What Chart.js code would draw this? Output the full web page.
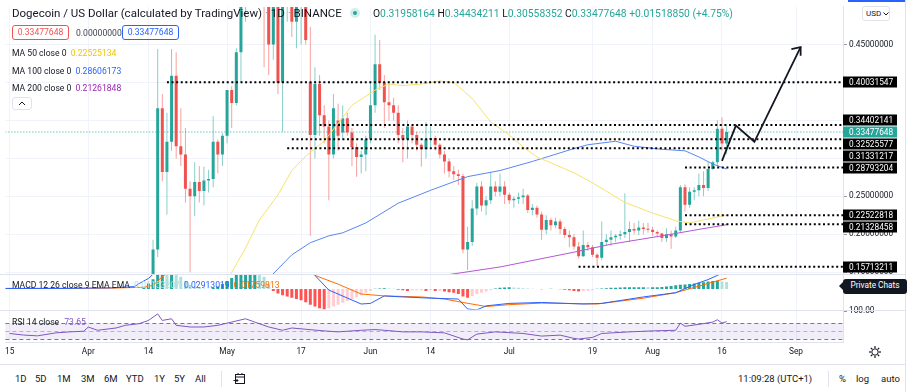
<!DOCTYPE html>
<html>
<head>
<meta charset="utf-8">
<script src="https://cdn.jsdelivr.net/npm/chart.js@4.4.0/dist/chart.umd.min.js"></script>
<style>
  html, body { margin: 0; padding: 0; background: #fff; }
  body { width: 911px; height: 392px; position: relative; overflow: hidden; font-family: Roboto, "Noto Sans", sans-serif; color: #131722; }
  #wrap { position: absolute; left: 0; top: 0; width: 911px; height: 364px; }
  .t { position: absolute; white-space: nowrap; line-height: 1; }
  .lg { font-size: 8.6px; }
  .box { position: absolute; border-radius: 3px; box-sizing: border-box; text-align: center; font-size: 8.6px; line-height: 13px; }
  .teal { color: #26a69a; }
  #bar { position: absolute; left: 0; top: 364px; width: 905px; height: 28px; border-top: 1px solid #e0e3eb; box-sizing: border-box; font-size: 9.5px; }
  #bar span { position: absolute; top: 8px; white-space: nowrap; }
  .sep { position: absolute; top: 6px; width: 1px; height: 16px; background: #e0e3eb; }
</style>
</head>
<body>
<div id="wrap"><canvas id="c" width="911" height="364"></canvas></div>

<div class="t" style="left:12px;top:8px;font-size:11.5px;">Dogecoin / US Dollar (calculated by TradingView) <span style="color:#9598a1">·</span> 1D <span style="color:#9598a1">·</span> BINANCE</div>
<div style="position:absolute;left:350px;top:8px;width:10px;height:10px;border-radius:50%;background:rgba(38,166,154,0.2);"><div style="position:absolute;left:3px;top:3px;width:4px;height:4px;border-radius:50%;background:#26a69a;"></div></div>
<div class="t" style="left:373px;top:9px;font-size:10.3px;">O<span class="teal">0.31958164</span> H<span class="teal">0.34434211</span> L<span class="teal">0.30558352</span> C<span class="teal">0.33477648</span> <span class="teal">+0.01518850 (+4.75%)</span></div>

<div class="box" style="left:12px;top:25px;width:57px;height:15px;border:1px solid #ef5350;color:#ef5350;">0.33477648</div>
<div class="t lg" style="left:76px;top:29px;color:#434651;">0.00000000</div>
<div class="box" style="left:122px;top:25px;width:57px;height:15px;border:1px solid #2962ff;color:#2962ff;">0.33477648</div>

<div class="t lg" style="left:12px;top:49px;">MA 50 close 0 <span style="color:#f2c500;margin-left:2px;">0.22525134</span></div>
<div class="t lg" style="left:12px;top:67px;">MA 100 close 0 <span style="color:#2962ff;margin-left:2px;">0.28606173</span></div>
<div class="t lg" style="left:12px;top:84px;">MA 200 close 0 <span style="color:#9c27b0;margin-left:2px;">0.21261848</span></div>
<div style="position:absolute;left:12px;top:97px;width:20px;height:13px;border:1px solid #e0e3eb;border-radius:3px;box-sizing:border-box;background:#fff;">
  <svg width="18" height="11" style="position:absolute;left:0;top:0"><polyline points="6,7 9,4 12,7" fill="none" stroke="#131722" stroke-width="1"/></svg>
</div>

<div class="t lg" style="left:12px;top:281px;">MACD 12 26 close 9 EMA EMA <span style="color:#b2dfdb;margin-left:2px;">0.01153207</span> <span style="color:#2962ff;margin-left:2px;">0.02913019</span> <span style="color:#ff6d00;margin-left:2px;">0.01759813</span></div>
<div class="t lg" style="left:12px;top:318px;">RSI 14 close <span style="color:#7e57c2;margin-left:3px;">73.65</span></div>

<div class="box" style="left:862px;top:6px;width:28px;height:15px;border:1px solid #e0e3eb;font-size:8px;line-height:13px;text-align:left;padding-left:3px;background:#fff;">USD<svg width="6" height="5" style="position:absolute;left:20px;top:5px"><polyline points="0.5,0.5 3,3 5.5,0.5" fill="none" stroke="#131722" stroke-width="1"/></svg></div>
<div style="position:absolute;left:848px;top:0;width:57px;height:2px;background:#2962ff;"></div>
<div style="position:absolute;left:905px;top:0;width:1px;height:392px;background:#e0e3eb;"></div>

<div style="position:absolute;left:839px;top:282px;width:0;height:0;border-top:4px solid transparent;border-bottom:4px solid transparent;border-right:4px solid #131722;"></div>
<div class="box" style="left:843px;top:279px;width:64px;height:15px;background:#131722;color:#fff;font-size:8.3px;">Private Chats</div>

<svg width="14" height="14" style="position:absolute;left:868px;top:345px" viewBox="0 0 14 14">
  <circle cx="7" cy="7" r="3.2" fill="none" stroke="#131722" stroke-width="1"/>
  <g stroke="#131722" stroke-width="1.2">
    <line x1="7" y1="1" x2="7" y2="3.2"/><line x1="7" y1="10.8" x2="7" y2="13"/>
    <line x1="1" y1="7" x2="3.2" y2="7"/><line x1="10.8" y1="7" x2="13" y2="7"/>
    <line x1="2.8" y1="2.8" x2="4.3" y2="4.3"/><line x1="9.7" y1="9.7" x2="11.2" y2="11.2"/>
    <line x1="2.8" y1="11.2" x2="4.3" y2="9.7"/><line x1="9.7" y1="4.3" x2="11.2" y2="2.8"/>
  </g>
</svg>

<div id="bar">
  <span style="left:15px">1D</span><span style="left:35px">5D</span><span style="left:57px">1M</span><span style="left:81px">3M</span>
  <span style="left:104px">6M</span><span style="left:126px">YTD</span><span style="left:154px">1Y</span><span style="left:174px">5Y</span>
  <span style="left:195px">All</span>
  <div class="sep" style="left:221px"></div>
  <svg width="13" height="13" style="position:absolute;left:233px;top:7px" viewBox="0 0 13 13">
    <rect x="2.5" y="2.5" width="9" height="9" fill="none" stroke="#131722"/>
    <line x1="2.5" y1="5" x2="11.5" y2="5" stroke="#131722"/>
    <line x1="5" y1="1" x2="5" y2="3" stroke="#131722"/><line x1="9" y1="1" x2="9" y2="3" stroke="#131722"/>
    <polyline points="0.5,8.5 5,8.5" fill="none" stroke="#131722"/><polyline points="3.5,7 5,8.5 3.5,10" fill="none" stroke="#131722"/>
  </svg>
  <span style="left:738px">11:09:28 (UTC+1)</span>
  <div class="sep" style="left:828px"></div>
  <span style="left:839px">%</span><span style="left:856px">log</span><span style="left:881px">auto</span>
</div>

<script>
const DAY = 86400000;
const dayNum = s => Date.parse(s + 'T00:00:00Z') / DAY;

// daily candles from 15 Apr 2021
const candleStart = '2021-04-15';
const opens = [0.120,0.180,0.366,0.282,0.322,0.409,0.316,0.305,0.260,0.250,0.269,0.257,0.271,0.273,0.322,0.305,
  0.330,0.390,0.373,0.440,0.560,0.580,0.600,0.650,0.700,0.520,0.450,0.500,0.400,0.500,0.520,0.480,0.500,0.505,
  0.400,0.331,0.398,0.357,0.342,0.305,0.350,0.334,0.353,0.334,0.315,0.302,0.305,0.325,0.370,0.424,0.400,0.374,
  0.370,0.360,0.331,0.325,0.342,0.331,0.318,0.312,0.325,0.327,0.318,0.305,0.296,0.283,0.279,0.277,0.180,0.190,
  0.234,0.263,0.238,0.245,0.263,0.256,0.263,0.252,0.245,0.247,0.249,0.251,0.232,0.235,0.226,0.206,0.219,0.212,
  0.217,0.207,0.199,0.196,0.184,0.171,0.186,0.183,0.173,0.169,0.190,0.193,0.196,0.198,0.200,0.203,0.207,0.205,
  0.209,0.207,0.206,0.203,0.201,0.195,0.200,0.197,0.205,0.262,0.239,0.256,0.258,0.265,0.261,0.286,0.295,0.339,
  0.31958164];
const highs = [0.193,0.444,0.385,0.360,0.444,0.440,0.366,0.340,0.270,0.295,0.290,0.289,0.285,0.356,0.325,0.333,
  0.390,0.395,0.445,0.580,0.620,0.640,0.700,0.740,0.720,0.550,0.520,0.530,0.520,0.580,0.550,0.520,0.520,0.530,
  0.473,0.420,0.410,0.370,0.350,0.385,0.372,0.370,0.360,0.340,0.320,0.310,0.330,0.400,0.463,0.456,0.410,0.400,
  0.380,0.370,0.340,0.350,0.345,0.335,0.320,0.348,0.342,0.330,0.320,0.310,0.300,0.290,0.285,0.280,0.210,0.245,
  0.268,0.270,0.250,0.282,0.270,0.280,0.270,0.255,0.250,0.255,0.260,0.253,0.240,0.238,0.230,0.225,0.222,0.222,
  0.220,0.210,0.205,0.200,0.190,0.205,0.190,0.186,0.175,0.217,0.200,0.205,0.200,0.205,0.254,0.217,0.215,0.218,
  0.215,0.215,0.210,0.205,0.202,0.208,0.205,0.210,0.265,0.266,0.262,0.262,0.280,0.283,0.295,0.297,0.350,0.354,
  0.34434211];
const lows = [0.118,0.170,0.270,0.226,0.310,0.300,0.290,0.242,0.150,0.224,0.242,0.238,0.255,0.262,0.280,0.290,
  0.320,0.340,0.370,0.400,0.480,0.520,0.550,0.600,0.420,0.410,0.430,0.385,0.335,0.480,0.460,0.445,0.450,0.450,
  0.198,0.300,0.330,0.320,0.245,0.300,0.310,0.325,0.330,0.290,0.276,0.280,0.283,0.320,0.360,0.390,0.340,0.350,
  0.350,0.320,0.295,0.300,0.320,0.310,0.289,0.300,0.315,0.310,0.300,0.280,0.275,0.272,0.265,0.175,0.153,0.185,
  0.225,0.230,0.225,0.240,0.250,0.250,0.240,0.240,0.235,0.240,0.240,0.228,0.225,0.222,0.193,0.200,0.205,0.208,
  0.200,0.195,0.183,0.180,0.168,0.170,0.178,0.170,0.158,0.166,0.185,0.185,0.190,0.193,0.195,0.190,0.200,0.199,
  0.200,0.202,0.198,0.197,0.190,0.190,0.181,0.195,0.203,0.230,0.235,0.245,0.250,0.250,0.257,0.285,0.290,0.310,
  0.30558352];
const closes = [0.180,0.366,0.282,0.322,0.409,0.316,0.305,0.260,0.250,0.269,0.257,0.271,0.273,0.322,0.305,0.330,
  0.390,0.373,0.440,0.560,0.580,0.600,0.650,0.700,0.520,0.450,0.500,0.400,0.500,0.520,0.480,0.500,0.505,0.456,
  0.331,0.398,0.357,0.342,0.305,0.366,0.330,0.353,0.334,0.315,0.302,0.305,0.325,0.370,0.424,0.400,0.374,0.370,
  0.360,0.331,0.325,0.342,0.331,0.318,0.312,0.325,0.327,0.318,0.305,0.296,0.283,0.279,0.277,0.180,0.190,0.234,
  0.263,0.238,0.245,0.263,0.256,0.263,0.252,0.245,0.247,0.249,0.251,0.232,0.235,0.226,0.206,0.219,0.212,0.217,
  0.207,0.199,0.196,0.184,0.171,0.186,0.183,0.173,0.169,0.190,0.193,0.196,0.198,0.200,0.203,0.207,0.205,0.209,
  0.207,0.206,0.203,0.201,0.195,0.200,0.197,0.205,0.262,0.239,0.256,0.258,0.265,0.261,0.286,0.295,0.339,0.3196,
  0.33477648];
const lastClose = 0.33477648;

// moving averages (sampled off the chart)
const ma50Dates = ['2021-04-29','2021-05-02','2021-05-05','2021-05-08','2021-05-12','2021-05-15','2021-05-18','2021-05-22',
  '2021-05-25','2021-05-28','2021-06-02','2021-06-05','2021-06-08','2021-06-12','2021-06-16','2021-06-19','2021-06-23',
  '2021-06-27','2021-07-01','2021-07-04','2021-07-07','2021-07-12','2021-07-15','2021-07-19','2021-07-26','2021-08-01',
  '2021-08-06','2021-08-09','2021-08-12','2021-08-17'];
const ma50 = [0.125,0.150,0.182,0.219,0.252,0.284,0.303,0.323,0.346,0.370,0.390,0.398,0.396,0.398,0.402,0.400,0.379,
  0.348,0.331,0.315,0.302,0.289,0.281,0.268,0.242,0.228,0.218,0.215,0.219,0.22525134];
const ma100Dates = ['2021-05-06','2021-05-10','2021-05-15','2021-05-19','2021-05-23','2021-05-26','2021-05-31','2021-06-07',
  '2021-06-14','2021-06-22','2021-06-29','2021-07-06','2021-07-15','2021-07-18','2021-07-24','2021-07-28','2021-08-03',
  '2021-08-08','2021-08-11','2021-08-14','2021-08-17'];
const ma100 = [0.115,0.142,0.173,0.189,0.198,0.202,0.215,0.241,0.258,0.276,0.284,0.296,0.313,0.318,0.3226,0.316,0.312,
  0.310,0.302,0.2926,0.28606173];
const ma200Dates = ['2021-06-13','2021-06-18','2021-06-29','2021-07-15','2021-07-23','2021-08-03','2021-08-11','2021-08-17'];
const ma200 = [0.140,0.147,0.157,0.1765,0.187,0.198,0.2065,0.21261848];

// drawn horizontal levels and where each starts
const levels = [0.40031547,0.34402141,0.32525577,0.31331217,0.28793204,0.22522818,0.21328458,0.15713211];
const levelFrom = ['2021-04-18','2021-05-21','2021-05-15','2021-05-14','2021-08-08','2021-08-08','2021-08-08','2021-07-16'];

// projection arrow
const arrowDates = ['2021-08-16','2021-08-19','2021-08-23','2021-09-02'];
const arrowPrices = [0.2968,0.3433,0.3219,0.4465];
const headDates = ['2021-08-31','2021-09-02','2021-09-02'];
const headPrices = [0.4439,0.4465,0.4354];

// MACD 12 26 9
const histStart = '2021-04-13';
const macdHist = [0.003,0.009,0.016,0.030,0.034,0.031,0.033,0.027,0.020,0.013,0.007,0.004,0.002,0.001,0.0005,0.002,
  0.004,0.008,0.013,0.018,0.024,0.028,0.032,0.035,0.036,0.030,0.020,0.008,-0.003,-0.007,-0.010,-0.012,-0.014,-0.016,
  -0.018,-0.021,-0.025,-0.028,-0.031,-0.033,-0.031,-0.028,-0.025,-0.022,-0.019,-0.016,-0.013,-0.010,-0.006,-0.003,
  0.0005,0.001,0.0015,0.001,0.0005,-0.001,-0.002,-0.003,-0.002,-0.002,-0.002,-0.003,-0.002,-0.003,-0.003,-0.004,
  -0.005,-0.006,-0.008,-0.012,-0.014,-0.011,-0.008,-0.006,-0.004,-0.002,0.001,0.002,0.0025,0.003,0.0025,0.002,
  0.0015,0.001,0.0005,0.0003,-0.0004,0.0003,0.0005,0.0003,-0.0003,-0.001,-0.002,-0.003,-0.004,-0.003,-0.0025,-0.002,
  0.0005,0.001,0.0015,0.002,0.002,0.0025,0.003,0.003,0.003,0.003,0.003,0.0028,0.003,0.003,0.0035,0.004,0.005,
  0.006,0.007,0.0075,0.008,0.009,0.010,0.011,0.012,0.013,0.0135,0.012,0.0115];
const macdDates = ['2021-03-14','2021-03-27','2021-04-06','2021-04-11','2021-04-12','2021-04-14','2021-04-15','2021-04-17',
  '2021-04-26','2021-05-06','2021-05-14','2021-05-18','2021-05-20','2021-05-23','2021-05-30','2021-06-01','2021-06-04',
  '2021-06-08','2021-06-14','2021-06-20','2021-06-22','2021-06-24','2021-06-26','2021-07-01','2021-07-08','2021-07-17',
  '2021-07-21','2021-07-30','2021-08-06','2021-08-10','2021-08-13','2021-08-15','2021-08-17'];
const macdLine = [0.001,0.001,0.002,0.004,0.009,0.017,0.024,0.05,0.06,0.09,0.07,0.04,0.022,-0.0016,-0.024,-0.023,-0.011,
  -0.0126,-0.0146,-0.016,-0.032,-0.0335,-0.027,-0.023,-0.0215,-0.024,-0.023,-0.0126,-0.0058,0.0074,0.0153,0.022,0.02913019];
const signalDates = ['2021-03-14','2021-04-06','2021-04-13','2021-04-15','2021-04-17','2021-04-19','2021-04-26','2021-05-08',
  '2021-05-16','2021-05-20','2021-05-25','2021-05-30','2021-06-04','2021-06-12','2021-06-17','2021-06-21','2021-06-26',
  '2021-07-01','2021-07-08','2021-07-20','2021-07-30','2021-08-06','2021-08-11','2021-08-17'];
const signalLine = [0.001,0.0015,0.003,0.006,0.02,0.03,0.05,0.07,0.06,0.022,0.008,-0.0079,-0.011,-0.0126,-0.016,-0.0215,
  -0.028,-0.025,-0.0225,-0.024,-0.0146,-0.0058,0.0047,0.01759813];

// RSI 14
const rsiDates = ['2021-03-15','2021-03-18','2021-03-21','2021-03-25','2021-03-28','2021-03-31','2021-04-01','2021-04-03',
  '2021-04-07','2021-04-09','2021-04-12','2021-04-14','2021-04-16','2021-04-17','2021-04-19','2021-04-20','2021-04-23',
  '2021-04-26','2021-04-29','2021-05-02','2021-05-05','2021-05-07','2021-05-10','2021-05-13','2021-05-15','2021-05-18',
  '2021-05-22','2021-05-25','2021-05-30','2021-06-02','2021-06-04','2021-06-08','2021-06-12','2021-06-17','2021-06-21',
  '2021-06-22','2021-06-24','2021-06-28','2021-07-04','2021-07-08','2021-07-12','2021-07-15','2021-07-16','2021-07-19',
  '2021-07-21','2021-07-27','2021-08-01','2021-08-06','2021-08-07','2021-08-08','2021-08-11','2021-08-14','2021-08-15',
  '2021-08-16','2021-08-17'];
const rsi = [44,40,38,45.5,48,49.6,60,52,57.7,64.4,68.5,76.6,93,76.6,80.8,64.4,60.2,60.2,64.4,72.5,80.8,72.5,60.2,52,
  57.7,54.5,50.4,48,52,53.8,52,48,48,45.5,30,28,42.3,48,44,37.4,39.8,31.7,30,34,44,48,50.4,52,70,62,66.8,72.5,78.3,70,73.65];

// axes
const tickDates = ['2021-03-15','2021-04-01','2021-04-14','2021-05-01','2021-05-17','2021-06-01','2021-06-14',
  '2021-07-01','2021-07-19','2021-08-01','2021-08-16','2021-09-01'];
const priceTicks = [0.15,0.20,0.25,0.30,0.35,0.40,0.45];
const monthNames = ['Jan','Feb','Mar','Apr','May','Jun','Jul','Aug','Sep','Oct','Nov','Dec'];

const GREEN = '#26a69a', RED = '#ef5350';
const viewFrom = dayNum('2021-03-14') + 0.07, viewTo = dayNum('2021-09-11') + 0.16;

const c0 = dayNum(candleStart);
const candles = opens.map((o, i) => ({ x: c0 + i, o, h: highs[i], l: lows[i], c: closes[i] }));
const bodies = candles.map(k => ({ x: k.x, y: [k.o, k.c], up: k.c >= k.o }));
const wicks = candles.map(k => ({ x: k.x, y: [k.l, k.h], up: k.c >= k.o }));
const pts = (dates, vals) => dates.map((d, i) => ({ x: dayNum(d), y: vals[i] }));
const h0 = dayNum(histStart);
const histPts = macdHist.map((v, i) => ({ x: h0 + i, y: v }));
const histColor = ctx => {
  const i = ctx.dataIndex, v = macdHist[i], p = i > 0 ? macdHist[i - 1] : 0;
  return v >= 0 ? (v >= p ? '#26a69a' : '#b2dfdb') : (v < p ? '#ff5252' : '#ffcdd2');
};

const lineSet = (data, color, axis, extra) => Object.assign({
  type: 'line', data, borderColor: color, borderWidth: 1, pointRadius: 0, tension: 0, yAxisID: axis, fill: false
}, extra || {});

const datasets = [
  lineSet(pts(arrowDates, arrowPrices), '#131722', 'y', { borderWidth: 1.8, order: 0 }),
  lineSet(pts(headDates, headPrices), '#131722', 'y', { borderWidth: 1.8, order: 0 }),
  ...levels.map((v, i) => lineSet([{ x: dayNum(levelFrom[i]), y: v }, { x: viewTo, y: v }], '#000', 'y',
    { borderWidth: 2, borderDash: [2, 2.6], order: 1 })),
  lineSet(pts(ma50Dates, ma50), '#f7e26b', 'y', { order: 2 }),
  lineSet(pts(ma100Dates, ma100), '#5b86f2', 'y', { order: 2 }),
  lineSet(pts(ma200Dates, ma200), '#b657d4', 'y', { order: 2 }),
  { type: 'bar', data: bodies, yAxisID: 'y', grouped: false, maxBarThickness: 3, minBarLength: 1, borderWidth: 0,
    backgroundColor: ctx => ctx.raw && ctx.raw.up ? GREEN : RED, order: 3 },
  { type: 'bar', data: wicks, yAxisID: 'y', grouped: false, maxBarThickness: 1, borderWidth: 0,
    backgroundColor: ctx => ctx.raw && ctx.raw.up ? 'rgba(38,166,154,0.55)' : 'rgba(239,83,80,0.55)', order: 4 },
  lineSet([{ x: viewFrom, y: lastClose }, { x: viewTo, y: lastClose }], GREEN, 'y', { borderDash: [1, 2], order: 6 }),
  lineSet(pts(macdDates, macdLine), '#2962ff', 'yMacd', { order: 2 }),
  lineSet(pts(signalDates, signalLine), '#ff6d00', 'yMacd', { order: 2 }),
  { type: 'bar', data: histPts, yAxisID: 'yMacd', grouped: false, maxBarThickness: 3, borderWidth: 0,
    backgroundColor: histColor, order: 5 },
  lineSet(pts(rsiDates, rsi), '#7e57c2', 'yRsi', { order: 2 })
];

// keep each series inside its own pane
const paneClip = {
  id: 'paneClip',
  beforeDatasetDraw(chart, args) {
    const s = args.meta.yScale, a = chart.chartArea, ctx = chart.ctx;
    ctx.save();
    ctx.beginPath();
    ctx.rect(a.left, s.top, a.right - a.left, s.bottom - s.top);
    ctx.clip();
  },
  afterDatasetDraw(chart) { chart.ctx.restore(); }
};

const panes = {
  id: 'panes',
  beforeDatasetsDraw(chart) {
    const ctx = chart.ctx, a = chart.chartArea, r = chart.scales.yRsi;
    const y70 = r.getPixelForValue(70), y30 = r.getPixelForValue(30), y50 = r.getPixelForValue(50);
    ctx.save();
    ctx.fillStyle = 'rgba(126,87,194,0.1)';
    ctx.fillRect(a.left, y70, a.right - a.left, y30 - y70);
    ctx.lineWidth = 1;
    [[y70, '#787b86'], [y50, 'rgba(120,123,134,0.5)'], [y30, '#787b86']].forEach(([y, col]) => {
      ctx.strokeStyle = col;
      ctx.setLineDash([4, 3]);
      ctx.beginPath();
      ctx.moveTo(a.left, Math.round(y) + 0.5);
      ctx.lineTo(a.right, Math.round(y) + 0.5);
      ctx.stroke();
    });
    ctx.restore();
  },
  afterDraw(chart) {
    const ctx = chart.ctx, s = chart.scales.y;
    ctx.save();
    ctx.strokeStyle = '#e0e3eb';
    ctx.lineWidth = 1;
    [chart.scales.yMacd.top, chart.scales.yRsi.top].forEach(y => {
      ctx.beginPath();
      ctx.moveTo(0, Math.round(y) + 0.5);
      ctx.lineTo(905, Math.round(y) + 0.5);
      ctx.stroke();
    });
    // price labels: current price stays put, the others are pushed away from it
    const boxH = 11, gap = 12;
    const cur = { v: lastClose, bg: GREEN, y: s.getPixelForValue(lastClose) };
    const others = levels.map(v => ({ v, bg: '#000', y: s.getPixelForValue(v) }));
    const above = others.filter(o => o.y <= cur.y).sort((p, q) => q.y - p.y);
    const below = others.filter(o => o.y > cur.y).sort((p, q) => p.y - q.y);
    let prev = cur.y;
    above.forEach(o => { o.y = Math.min(o.y, prev - gap); prev = o.y; });
    prev = cur.y;
    below.forEach(o => { o.y = Math.max(o.y, prev + gap); prev = o.y; });
    ctx.font = '8.3px Roboto, "Noto Sans", sans-serif';
    ctx.textBaseline = 'middle';
    others.concat([cur]).forEach(o => {
      const y = Math.round(o.y);
      ctx.fillStyle = o.bg;
      ctx.fillRect(s.left, y - boxH / 2, 54, boxH);
      ctx.fillStyle = '#fff';
      ctx.fillText(o.v.toFixed(8), s.left + 6, y + 0.5);
    });
    ctx.restore();
  }
};

Chart.defaults.font.family = 'Roboto, "Noto Sans", sans-serif';
const sideWidth = s => { s.width = 68; };

new Chart(document.getElementById('c'), {
  type: 'line',
  data: { datasets },
  plugins: [paneClip, panes],
  options: {
    responsive: false,
    animation: false,
    events: [],
    layout: { padding: 0, autoPadding: false },
    plugins: { legend: { display: false }, tooltip: { enabled: false } },
    scales: {
      x: {
        type: 'linear', min: viewFrom, max: viewTo, offset: false,
        grid: { color: '#f0f3fa', offset: false, drawTicks: false },
        border: { color: '#e0e3eb' },
        afterBuildTicks: s => { s.ticks = tickDates.map(d => ({ value: dayNum(d) })); },
        afterFit: s => { s.height = 22; },
        ticks: {
          autoSkip: false, maxRotation: 0, padding: 5, color: '#131722', font: { size: 8.3 },
          callback: v => { const d = new Date(v * DAY); return d.getUTCDate() === 1 ? monthNames[d.getUTCMonth()] : String(d.getUTCDate()); }
        }
      },
      y: {
        type: 'linear', position: 'right', stack: 'panes', stackWeight: 273, min: 0.1472, max: 0.4995,
        afterBuildTicks: s => { s.ticks = priceTicks.map(v => ({ value: v })); },
        afterFit: sideWidth,
        grid: { color: '#f0f3fa', tickLength: 4, tickColor: '#9598a1' },
        border: { color: '#e0e3eb' },
        ticks: { padding: 2, color: '#131722', font: { size: 8.3 }, callback: v => v.toFixed(8) }
      },
      yMacd: {
        type: 'linear', position: 'right', stack: 'panes', stackWeight: 36, min: -0.0331, max: 0.0236,
        afterFit: sideWidth,
        grid: { display: false }, border: { color: '#e0e3eb' }, ticks: { display: false }
      },
      yRsi: {
        type: 'linear', position: 'right', stack: 'panes', stackWeight: 33, min: 22.6, max: 103.6,
        afterBuildTicks: s => { s.ticks = [{ value: 100 }]; },
        afterFit: sideWidth,
        grid: { drawOnChartArea: false, tickLength: 4, tickColor: '#9598a1' },
        border: { color: '#e0e3eb' },
        ticks: { padding: 2, color: '#131722', font: { size: 8.3 }, callback: v => v.toFixed(2) }
      }
    }
  }
});
</script>
</body>
</html>
